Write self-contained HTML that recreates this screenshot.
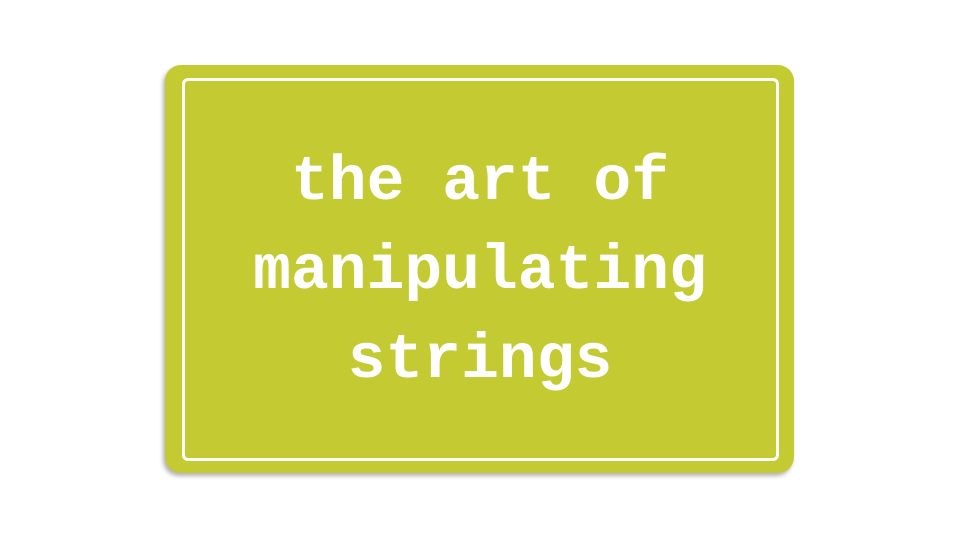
<!DOCTYPE html>
<html><head><meta charset="utf-8"><style>
html,body{margin:0;padding:0;width:960px;height:540px;background:#fff;overflow:hidden}
.card{position:absolute;left:165px;top:65px;width:629px;height:408px;background:#c4ca32;border-radius:16px;box-shadow:-2px 3px 4px rgba(0,0,0,0.3)}
.inner{position:absolute;left:17px;top:13px;width:591px;height:377px;border:3px solid #fff;border-radius:6px}
.txt{position:absolute;left:0;top:138px;width:960px;text-align:center;font-family:"Liberation Mono",monospace;font-weight:bold;font-size:63px;line-height:89px;color:#fff}
</style></head><body>
<div class="card"><div class="inner"></div></div>
<div class="txt">the art of<br>manipulating<br>strings</div>
</body></html>
